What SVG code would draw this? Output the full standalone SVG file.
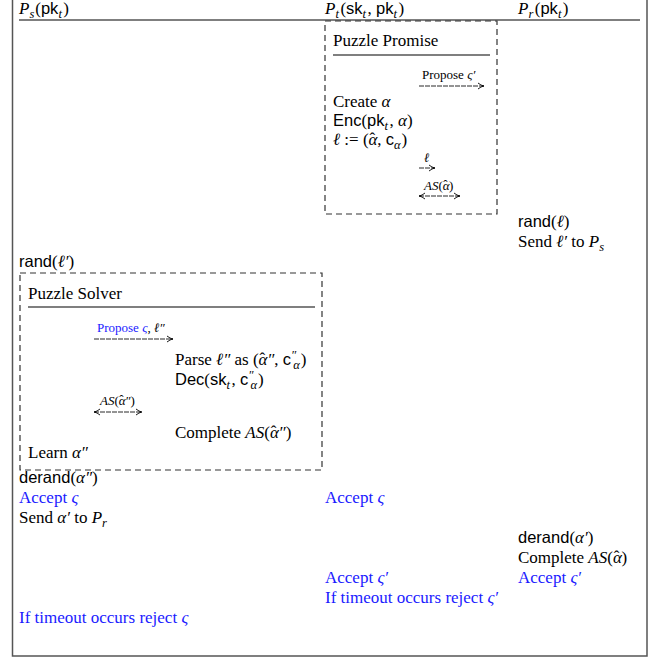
<svg xmlns="http://www.w3.org/2000/svg" width="664" height="658" viewBox="0 0 664 658">
<defs>
<style>
.t{font-family:"Liberation Serif","DejaVu Serif",serif;font-size:17px;fill:#000}
.sf{font-family:"Liberation Sans","DejaVu Sans",sans-serif;font-size:16.5px}
.i{font-style:italic}
.sub{font-size:12.5px}
.blue{fill:#1a1aff}
.sm{font-family:"Liberation Serif","DejaVu Serif",serif;font-size:13px;fill:#000}
.box{fill:none;stroke:#333;stroke-width:1.2;stroke-dasharray:6,4}
.rule{stroke:#000;stroke-width:1.2}
.arr{fill:none;stroke:#111;stroke-width:0.9;stroke-dasharray:5,1}
</style>
<marker id="ah" viewBox="0 0 8 8" refX="7" refY="4" markerWidth="8" markerHeight="8" markerUnits="userSpaceOnUse" orient="auto-start-reverse">
<path d="M1,1 Q4,3.5 7,4 Q4,4.5 1,7" fill="none" stroke="#000" stroke-width="0.9"/>
</marker>
</defs>
<rect x="0" y="0" width="664" height="658" fill="#fff"/>
<g id="frame">
<path d="M12.5,0 V656 H647 V0" fill="none" stroke="#555" stroke-width="1.5"/>
<line class="rule" x1="19" y1="20" x2="640" y2="20"/>
</g>
<g id="header">
<text class="t" x="19" y="14"><tspan class="i">P</tspan><tspan class="i sub" dy="4">s</tspan><tspan dx="1" dy="-4">(</tspan><tspan class="sf">pk</tspan><tspan class="i sub" dy="4">t</tspan><tspan dx="1.5" dy="-4">)</tspan></text>
<text class="t" x="325" y="14"><tspan class="i">P</tspan><tspan class="i sub" dy="4">t</tspan><tspan dx="1.5" dy="-4">(</tspan><tspan class="sf">sk</tspan><tspan class="i sub" dy="4">t</tspan><tspan dx="1.5" dy="-4">, </tspan><tspan class="sf">pk</tspan><tspan class="i sub" dy="4">t</tspan><tspan dx="1.5" dy="-4">)</tspan></text>
<text class="t" x="518" y="14"><tspan class="i">P</tspan><tspan class="i sub" dy="4">r</tspan><tspan dx="1.5" dy="-4">(</tspan><tspan class="sf">pk</tspan><tspan class="i sub" dy="4">t</tspan><tspan dx="1.5" dy="-4">)</tspan></text>
</g>
<g id="puzzle-promise">
<rect class="box" x="325" y="21" width="172" height="193"/>
<text class="t" x="333" y="46">Puzzle Promise</text>
<line class="rule" x1="333" y1="55" x2="490" y2="55"/>
<text class="sm blue" x="422" y="79">Propose <tspan class="i">ς′</tspan></text>
<text class="t" x="333" y="107">Create <tspan class="i">α</tspan></text>
<text class="t" x="333" y="126"><tspan class="sf">Enc</tspan>(<tspan class="sf">pk</tspan><tspan class="i sub" dy="4">t</tspan><tspan dx="1.5" dy="-4">, </tspan><tspan class="i">α</tspan>)</text>
<text class="t" x="333" y="145"><tspan class="i">ℓ</tspan> := (<tspan class="i">α</tspan><tspan dx="-8" dy="-1">ˆ</tspan><tspan dx="2" dy="1">, </tspan><tspan class="sf">c</tspan><tspan class="i sub" dy="4">α</tspan><tspan dx="1" dy="-4">)</tspan></text>
<text class="sm" x="424" y="162"><tspan class="i">ℓ</tspan></text>
<text class="sm" x="424" y="190"><tspan class="i">AS</tspan>(<tspan class="i">α</tspan><tspan dx="-6.5" dy="-1">ˆ</tspan><tspan dx="1.5" dy="1">)</tspan></text>
</g>
<g id="pr-actions">
<text class="t" x="518" y="227"><tspan class="sf">rand</tspan>(<tspan class="i">ℓ</tspan>)</text>
<text class="t" x="518" y="247">Send <tspan class="i">ℓ′</tspan> to <tspan class="i">P</tspan><tspan class="i sub" dy="4">s</tspan></text>
</g>
<g id="ps-rand">
<text class="t" x="19" y="267"><tspan class="sf">rand</tspan>(<tspan class="i">ℓ′</tspan>)</text>
</g>
<g id="puzzle-solver">
<rect class="box" x="20" y="273" width="302" height="197"/>
<text class="t" x="28" y="299">Puzzle Solver</text>
<line class="rule" x1="28" y1="307" x2="315" y2="307"/>
<text class="sm" x="97" y="332"><tspan class="blue">Propose <tspan class="i">ς</tspan></tspan>, <tspan class="i">ℓ″</tspan></text>
<text class="t" x="175" y="365">Parse <tspan class="i">ℓ″</tspan> as (<tspan class="i">α</tspan><tspan dx="-8" dy="-1">ˆ</tspan><tspan class="i" dx="2" dy="1">″</tspan>, <tspan class="sf">c</tspan><tspan class="i sub" dy="-6">″</tspan><tspan class="i sub" dx="-3" dy="10">α</tspan><tspan dx="1" dy="-4">)</tspan></text>
<text class="t" x="175" y="385"><tspan class="sf">Dec</tspan>(<tspan class="sf">sk</tspan><tspan class="i sub" dy="4">t</tspan><tspan dx="1.5" dy="-4">, </tspan><tspan class="sf">c</tspan><tspan class="i sub" dy="-6">″</tspan><tspan class="i sub" dx="-3" dy="10">α</tspan><tspan dx="1" dy="-4">)</tspan></text>
<text class="sm" x="100" y="405"><tspan class="i">AS</tspan>(<tspan class="i">α</tspan><tspan dx="-6.5" dy="-1">ˆ</tspan><tspan class="i" dx="1.5" dy="1">″</tspan>)</text>
<text class="t" x="175" y="438">Complete <tspan class="i">AS</tspan>(<tspan class="i">α</tspan><tspan dx="-8" dy="-1">ˆ</tspan><tspan class="i" dx="2" dy="1">″</tspan>)</text>
<text class="t" x="28" y="458">Learn <tspan class="i">α″</tspan></text>
</g>
<g id="ps-after">
<text class="t" x="19" y="483"><tspan class="sf">derand</tspan>(<tspan class="i">α″</tspan>)</text>
<text class="t blue" x="19" y="503">Accept <tspan class="i">ς</tspan></text>
<text class="t" x="19" y="523">Send <tspan class="i">α′</tspan> to <tspan class="i">P</tspan><tspan class="i sub" dy="4">r</tspan></text>
<text class="t blue" x="19" y="623">If timeout occurs reject <tspan class="i">ς</tspan></text>
</g>
<g id="pt-after">
<text class="t blue" x="325" y="503">Accept <tspan class="i">ς</tspan></text>
<text class="t blue" x="325" y="583">Accept <tspan class="i">ς′</tspan></text>
<text class="t blue" x="325" y="603">If timeout occurs reject <tspan class="i">ς′</tspan></text>
</g>
<g id="pr-after">
<text class="t" x="518" y="543"><tspan class="sf">derand</tspan>(<tspan class="i">α′</tspan>)</text>
<text class="t" x="518" y="563">Complete <tspan class="i">AS</tspan>(<tspan class="i">α</tspan><tspan dx="-8" dy="-1">ˆ</tspan><tspan dx="2" dy="1">)</tspan></text>
<text class="t blue" x="518" y="583">Accept <tspan class="i">ς′</tspan></text>
</g>
<g id="connectors">
<line class="arr" x1="419" y1="86" x2="484" y2="86" marker-end="url(#ah)"/>
<line class="arr" x1="419" y1="168" x2="435" y2="168" marker-end="url(#ah)"/>
<line class="arr" x1="419" y1="196" x2="460" y2="196" marker-start="url(#ah)" marker-end="url(#ah)"/>
<line class="arr" x1="94" y1="339" x2="173" y2="339" marker-end="url(#ah)"/>
<line class="arr" x1="94" y1="412" x2="142" y2="412" marker-start="url(#ah)" marker-end="url(#ah)"/>
</g>
</svg>
